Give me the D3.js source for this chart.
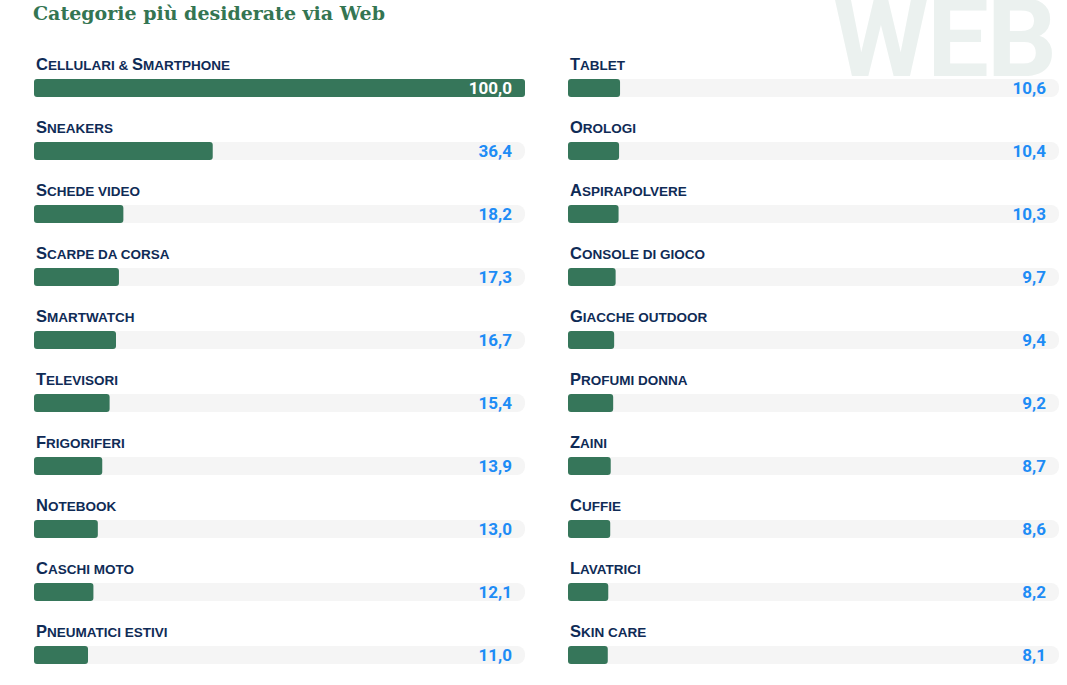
<!DOCTYPE html>
<html><head><meta charset="utf-8">
<script src="https://cdn.jsdelivr.net/npm/d3@7"></script>
<style>body{margin:0;background:#fff}svg{display:block}</style>
</head><body>
<svg id="c" width="1067" height="685"></svg>
<script>
const leftCategories = ["Cellulari & Smartphone","Sneakers","Schede video","Scarpe da corsa","Smartwatch","Televisori","Frigoriferi","Notebook","Caschi moto","Pneumatici estivi"];
const leftValues = [100.0,36.4,18.2,17.3,16.7,15.4,13.9,13.0,12.1,11.0];
const rightCategories = ["Tablet","Orologi","Aspirapolvere","Console di gioco","Giacche outdoor","Profumi donna","Zaini","Cuffie","Lavatrici","Skin care"];
const rightValues = [10.6,10.4,10.3,9.7,9.4,9.2,8.7,8.6,8.2,8.1];
const title = "Categorie più desiderate via Web";
const watermark = "WEB";

const svg = d3.select("#c");
const fmt = v => d3.format(".1f")(v).replace(".", ",");

svg.append("text").attr("x", 1055).attr("y", 76).attr("text-anchor","end")
  .attr("font-family","Roboto, Liberation Sans, sans-serif").attr("font-weight","bold")
  .attr("font-size", 110).attr("fill","#ebf1ef").attr("letter-spacing", -2).text(watermark);

svg.append("text").attr("x", 33).attr("y", 20)
  .attr("font-family","DejaVu Serif, serif").attr("font-weight","bold")
  .attr("font-size", 19).attr("fill","#347552").text(title);

const y = d3.scaleLinear().domain([0,1]).range([79,142]);
const barH = 18;

// split label into small-caps runs: uppercase source chars big, others small
function runs(s) {
  const out = [];
  for (const ch of s) {
    const big = ch !== ch.toLowerCase();
    const last = out[out.length-1];
    if (last && last.big === big) last.t += ch; else out.push({big, t: ch});
  }
  return out;
}

function column(cats, vals, x0, x1) {
  const x = d3.scaleLinear().domain([0,100]).range([x0, x1]);
  const g = svg.append("g");
  const rows = g.selectAll("g").data(cats.map((c,i)=>({c, v: vals[i], i}))).join("g");
  rows.append("rect").attr("x", x(0)).attr("y", d=>y(d.i)).attr("width", x(100)-x(0))
    .attr("height", barH).attr("rx", 8).attr("fill","#f5f5f5");
  rows.append("rect").attr("x", x(0)).attr("y", d=>y(d.i)).attr("width", d=>x(d.v)-x(0))
    .attr("height", barH).attr("rx", 3).attr("fill","#36765a");
  const lab = rows.append("text").attr("x", x(0)+2).attr("y", d=>y(d.i)-9)
    .attr("font-family","Liberation Sans, Arial, sans-serif").attr("font-weight","bold")
    .attr("fill","#0f2b56");
  lab.selectAll("tspan").data(d=>runs(d.c)).join("tspan")
    .attr("font-size", r=> r.big ? 16.5 : 13.5).text(r=>r.t.toUpperCase());
  rows.append("text").attr("x", x(100)-13).attr("y", d=>y(d.i)+15).attr("text-anchor","end")
    .attr("font-family","Roboto, Liberation Sans, sans-serif").attr("font-weight","bold")
    .attr("font-size", 17).attr("fill", d=> d.v >= 97 ? "#ffffff" : "#1e8cf5")
    .text(d=>fmt(d.v));
}
column(leftCategories, leftValues, 34, 525);
column(rightCategories, rightValues, 568, 1059);
</script>
</body></html>
